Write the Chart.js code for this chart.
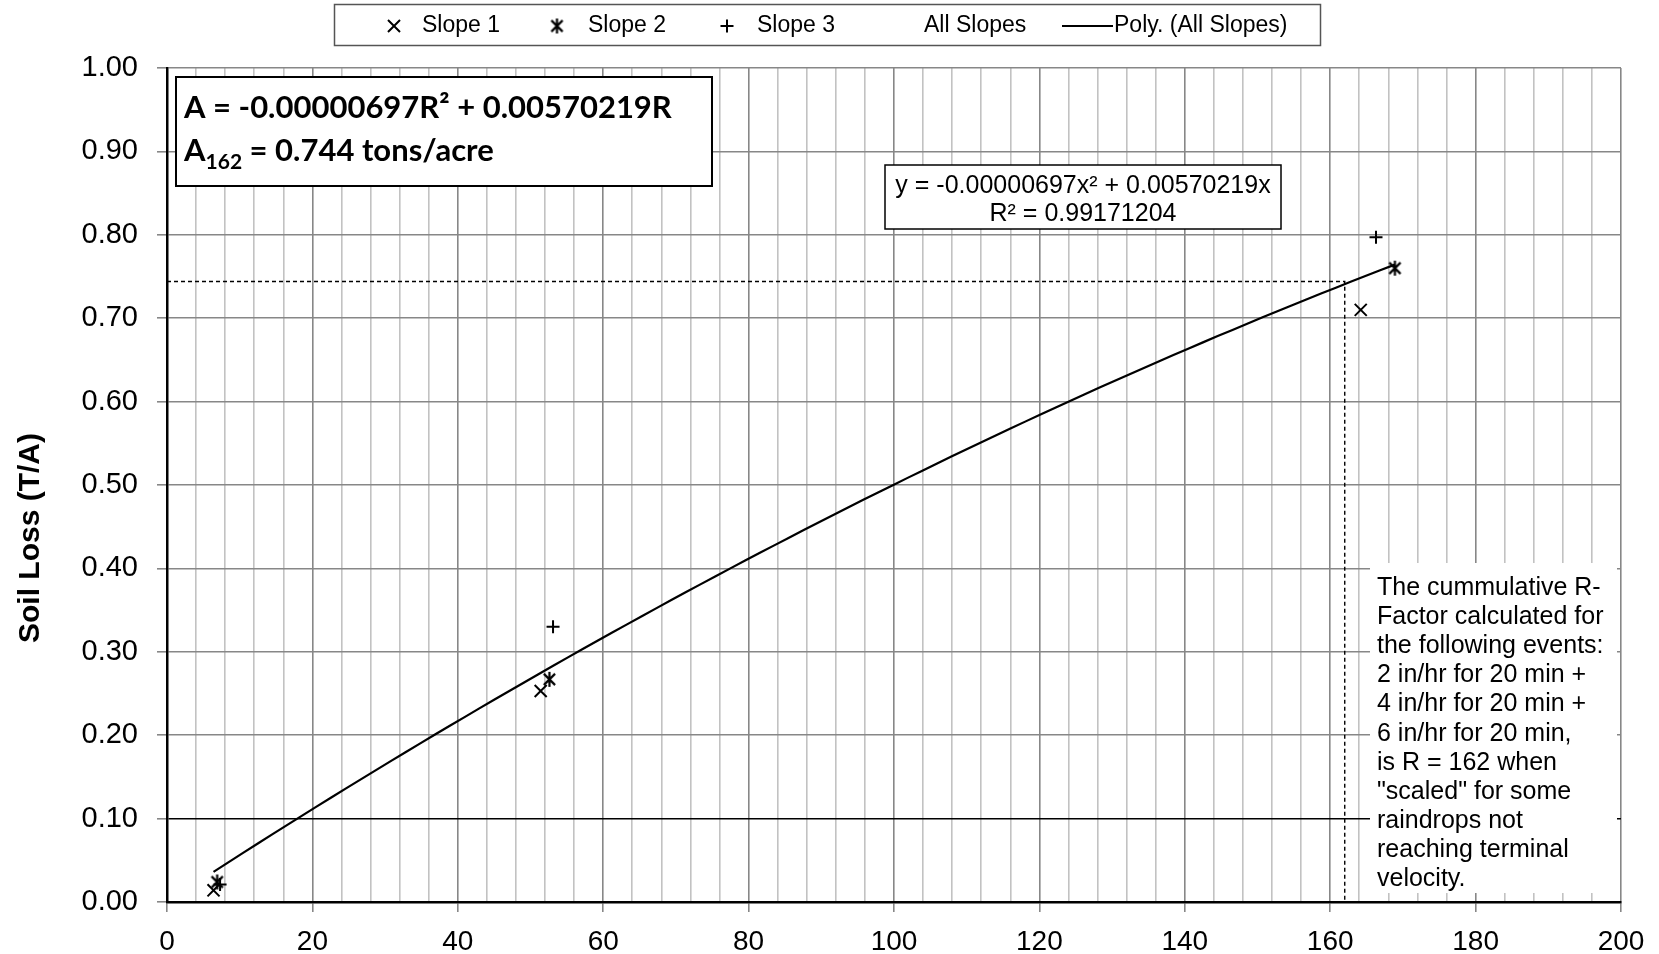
<!DOCTYPE html>
<html>
<head>
<meta charset="utf-8">
<script src="https://cdn.jsdelivr.net/npm/chart.js@4.4.1/dist/chart.umd.min.js"></script>
<style>
  html, body { margin: 0; padding: 0; background: #fff; }
  #wrap { width: 1659px; height: 954px; position: relative; }
</style>
</head>
<body>
<div id="wrap"><canvas id="soilChart"></canvas></div>
<script>
// soil loss (tons/acre) measured on each slope vs cumulative R-factor
const slope1R = [6.4, 51.4, 164.2];
const slope1A = [0.014, 0.253, 0.710];
const slope2R = [6.9, 52.6, 168.9];
const slope2A = [0.024, 0.267, 0.760];
const slope3R = [7.3, 53.1, 166.3];
const slope3A = [0.021, 0.330, 0.797];

// 2nd order fit through all slopes, forced through zero
const polyCoef = [-0.00000697, 0.00570219];
const rSquared = '0.99171204';

// design storm read-off
const designR = 162;
const designA = 0.744;

const seriesNames = ['Slope 1', 'Slope 2', 'Slope 3', 'All Slopes', 'Poly. (All Slopes)'];

const FONT = "'Liberation Sans', Arial, sans-serif";

const pts = (xs, ys) => xs.map((x, i) => ({ x: x, y: ys[i] }));

const allR = slope1R.concat(slope2R, slope3R);
const allA = slope1A.concat(slope2A, slope3A);
const rLo = Math.min(...allR), rHi = Math.max(...allR);
const trend = [];
for (let i = 0; i <= 80; i++) {
  const r = rLo + (rHi - rLo) * i / 80;
  trend.push({ x: r, y: polyCoef[0] * r * r + polyCoef[1] * r });
}

// Excel style asterisk marker: an x with a vertical bar through it
function asterisk(size, lw) {
  const c = document.createElement('canvas');
  c.width = c.height = size;
  const g = c.getContext('2d');
  const m = size / 2, r = size / 2 - 1;
  g.strokeStyle = '#000';
  g.lineWidth = lw;
  g.beginPath();
  g.moveTo(m - r * 0.75, m - r * 0.75); g.lineTo(m + r * 0.75, m + r * 0.75);
  g.moveTo(m + r * 0.75, m - r * 0.75); g.lineTo(m - r * 0.75, m + r * 0.75);
  g.moveTo(m, 1); g.lineTo(m, size - 1);
  g.stroke();
  return c;
}
const starMark = asterisk(17, 2.2);

const markerBase = { showLine: false, borderColor: '#000', backgroundColor: '#000', pointBorderWidth: 2, pointRadius: 8.5, pointHoverRadius: 8.5 };

const datasets = [
  { label: 'design', data: [{ x: 0, y: designA }, { x: designR, y: designA }, { x: designR, y: 0 }],
    showLine: true, borderColor: '#000', borderWidth: 1.4, borderDash: [4, 3], pointRadius: 0, fill: false },
  { label: seriesNames[4], data: trend, showLine: true, borderColor: '#000', borderWidth: 2.2, pointRadius: 0, tension: 0 },
  Object.assign({ label: seriesNames[0], data: pts(slope1R, slope1A), pointStyle: 'crossRot' }, markerBase),
  Object.assign({ label: seriesNames[1], data: pts(slope2R, slope2A), pointStyle: starMark }, markerBase),
  Object.assign({ label: seriesNames[2], data: pts(slope3R, slope3A), pointStyle: 'cross' }, markerBase, { pointRadius: 6.5 }),
  { label: seriesNames[3], data: pts(allR, allA), showLine: false, pointRadius: 0 }
];

// legend strip across the top, in a thin frame
const legendBox = {
  id: 'legendBox',
  afterDraw(chart) {
    const ctx = chart.ctx;
    const ds = chart.data.datasets;
    const y = 26;
    ctx.save();
    ctx.strokeStyle = '#555';
    ctx.lineWidth = 1.5;
    ctx.strokeRect(334.5, 4.5, 986, 41);
    ctx.font = '23px ' + FONT;
    ctx.fillStyle = '#000';
    ctx.textBaseline = 'middle';
    const items = [
      { ds: ds[2], mx: 394, tx: 422 },
      { ds: ds[3], mx: 557, tx: 588 },
      { ds: ds[4], mx: 727, tx: 757 },
      { ds: ds[5], mx: null, tx: 924 },
      { ds: ds[1], mx: 'line', tx: 1114 }
    ];
    items.forEach(it => {
      ctx.strokeStyle = '#000';
      ctx.fillStyle = '#000';
      if (it.mx === 'line') {
        ctx.lineWidth = 2;
        ctx.beginPath(); ctx.moveTo(1062, y); ctx.lineTo(1113, y); ctx.stroke();
      } else if (it.mx !== null) {
        ctx.lineWidth = it.ds.pointBorderWidth;
        Chart.helpers.drawPoint(ctx, { pointStyle: it.ds.pointStyle, radius: it.ds.pointRadius, rotation: 0, borderWidth: it.ds.pointBorderWidth }, it.mx, y);
      }
      ctx.fillText(it.ds.label, it.tx, y);
    });
    ctx.restore();
  }
};

// text boxes and the rotated axis title
const notes = {
  id: 'notes',
  afterDraw(chart) {
    const ctx = chart.ctx;
    ctx.save();
    ctx.fillStyle = '#000';

    // axis title
    ctx.save();
    ctx.translate(31, 538);
    ctx.rotate(-Math.PI / 2);
    ctx.font = 'bold 30px ' + FONT;
    ctx.textAlign = 'center';
    ctx.textBaseline = 'middle';
    ctx.fillText('Soil Loss (T/A)', 0, 0);
    ctx.restore();

    // fitted equation and design value
    ctx.fillStyle = '#fff';
    ctx.fillRect(176, 77, 536, 109);
    ctx.strokeStyle = '#000';
    ctx.lineWidth = 2;
    ctx.strokeRect(176, 77, 536, 109);
    ctx.fillStyle = '#000';
    ctx.textBaseline = 'alphabetic';
    ctx.font = 'bold 31px Lato, sans-serif';
    ctx.fillText('A = ' + polyCoef[0].toFixed(8) + 'R\u00B2 + ' + polyCoef[1].toFixed(8) + 'R', 184, 118);
    ctx.fillText('A', 184, 161);
    let x = 184 + ctx.measureText('A').width;
    ctx.font = 'bold 21px Lato, sans-serif';
    ctx.fillText(String(designR), x, 169);
    x += ctx.measureText(String(designR)).width;
    ctx.font = 'bold 31px Lato, sans-serif';
    ctx.fillText(' = ' + designA.toFixed(3) + ' tons/acre', x, 161);

    // trendline label
    ctx.fillStyle = '#fff';
    ctx.fillRect(885, 165, 396, 64);
    ctx.strokeStyle = '#000';
    ctx.lineWidth = 1.5;
    ctx.strokeRect(885, 165, 396, 64);
    ctx.fillStyle = '#000';
    ctx.font = '25px ' + FONT;
    ctx.textAlign = 'center';
    ctx.fillText('y = ' + polyCoef[0].toFixed(8) + 'x\u00B2 + ' + polyCoef[1].toFixed(8) + 'x', 1083, 193);
    ctx.fillText('R\u00B2 = ' + rSquared, 1083, 221);

    // explanation of the design R-factor
    ctx.fillStyle = '#fff';
    ctx.fillRect(1370, 563, 247, 330);
    ctx.fillStyle = '#000';
    ctx.textAlign = 'left';
    ctx.font = '25px ' + FONT;
    const lines = ['The cummulative R-', 'Factor calculated for', 'the following events:',
      '2 in/hr for 20 min +', '4 in/hr for 20 min +', '6 in/hr for 20 min,',
      'is R = ' + designR + ' when', '"scaled" for some', 'raindrops not',
      'reaching terminal', 'velocity.'];
    lines.forEach((t, i) => ctx.fillText(t, 1377, 595 + i * 29.1));
    ctx.restore();
  }
};

new Chart(document.getElementById('soilChart'), {
  type: 'scatter',
  data: { datasets: datasets },
  plugins: [notes, legendBox],
  options: {
    responsive: true,
    maintainAspectRatio: false,
    animation: false,
    devicePixelRatio: 1,
    layout: { padding: { top: 68, right: 38, left: 0, bottom: 0 } },
    plugins: { legend: { display: false }, tooltip: { enabled: false } },
    scales: {
      x: {
        type: 'linear', min: 0, max: 200,
        afterFit: s => { s.height = 52; },
        border: { color: '#000', width: 2.5 },
        grid: {
          color: c => (c.tick.value % 20 === 0 ? '#878787' : '#c2c2c2'),
          lineWidth: 1.6,
          tickLength: 10,
          tickColor: c => (c.tick.value % 20 === 0 ? '#878787' : 'rgba(0,0,0,0)')
        },
        ticks: {
          stepSize: 4, autoSkip: false, maxRotation: 0, padding: 13,
          color: '#000', font: { family: FONT, size: 28 },
          callback: v => (v % 20 === 0 ? String(v) : '')
        }
      },
      y: {
        type: 'linear', min: 0, max: 1,
        afterFit: s => { s.width = 167; },
        border: { color: '#000', width: 2.5 },
        grid: {
          color: c => (Math.abs(c.tick.value - 0.1) < 1e-9 ? '#000' : '#878787'),
          lineWidth: 1.6,
          tickLength: 10,
          tickColor: '#878787'
        },
        ticks: {
          stepSize: 0.1, padding: 19,
          color: '#000', font: { family: FONT, size: 29 },
          callback: v => v.toFixed(2)
        }
      }
    }
  }
});
</script>
</body>
</html>
